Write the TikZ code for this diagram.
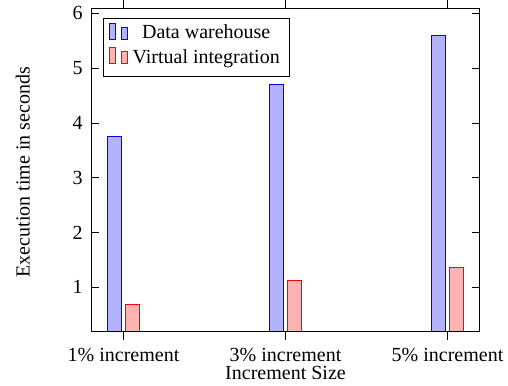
\documentclass[tikz,border=0pt]{standalone}
\usepackage{fontspec}
\setmainfont{Liberation Serif}
\usetikzlibrary{positioning}

\tikzset{
  dwbar/.style={draw=blue, fill=blue!30},
  vibar/.style={draw=red, fill=red!30},
  ylab/.style={anchor=east, inner sep=0pt, xshift=-4pt},
  xlab/.style={anchor=base, inner sep=0pt},
}

\begin{document}
\begin{tikzpicture}[x=81pt, y=27.4pt]

\useasboundingbox (-0.7623,-0.783) rectangle (2.3735,6.243) ;

\draw [dwbar] (-0.0975,0.19) rectangle (-0.0136,3.75) ;
\draw [vibar] (0.0136,0.19) rectangle (0.0975,0.69) ;
\draw [dwbar] (0.9025,0.19) rectangle (0.9864,4.70) ;
\draw [vibar] (1.0136,0.19) rectangle (1.0975,1.12) ;
\draw [dwbar] (1.9025,0.19) rectangle (1.9864,5.60) ;
\draw [vibar] (2.0136,0.19) rectangle (2.0975,1.36) ;

\coordinate (sw) at (-0.2,0.19) ;
\coordinate (ne) at (2.2,6.09) ;
\draw (sw) rectangle (ne) ;

\draw (-0.2,1) -- ++(4pt,0) ;
\draw (-0.2,2) -- ++(4pt,0) ;
\draw (-0.2,3) -- ++(4pt,0) ;
\draw (-0.2,4) -- ++(4pt,0) ;
\draw (-0.2,5) -- ++(4pt,0) ;
\draw (-0.2,6) -- ++(4pt,0) ;
\draw (2.2,1) -- ++(-4pt,0) ;
\draw (2.2,2) -- ++(-4pt,0) ;
\draw (2.2,3) -- ++(-4pt,0) ;
\draw (2.2,4) -- ++(-4pt,0) ;
\draw (2.2,5) -- ++(-4pt,0) ;
\draw (2.2,6) -- ++(-4pt,0) ;

\draw (0,0.19) -- ++(0,-4pt) ;
\draw (1,0.19) -- ++(0,-4pt) ;
\draw (2,0.19) -- ++(0,-4pt) ;
\draw (0,6.09) -- ++(0,4pt) ;
\draw (1,6.09) -- ++(0,4pt) ;
\draw (2,6.09) -- ++(0,4pt) ;

\node (y1) [ylab] at (-0.2,1) {1} ;
\node (y2) [ylab] at (-0.2,2) {2} ;
\node (y3) [ylab] at (-0.2,3) {3} ;
\node (y4) [ylab] at (-0.2,4) {4} ;
\node (y5) [ylab] at (-0.2,5) {5} ;
\node (y6) [ylab] at (-0.2,6) {6} ;

\node (x1) [xlab] at (0,-0.36) {1\% increment} ;
\node (x3) [xlab] at (1,-0.36) {3\% increment} ;
\node (x5) [xlab] at (2,-0.36) {5\% increment} ;
\node (xtitle) [xlab] at (1,-0.69) {Increment Size} ;
\node (ytitle) [xlab, rotate=90] at (-0.58,3.1) {Execution time in seconds} ;

\node (legend) [draw, fill=white, anchor=north west, inner sep=0pt,
  minimum width=93pt, minimum height=28.9pt] at (-0.1265,5.911) {} ;
\draw [dwbar] ([xshift=3.35pt,yshift=-10.4pt]legend.north west) rectangle ++(2.8pt,8pt) ;
\draw [dwbar] ([xshift=9.2pt,yshift=-10.4pt]legend.north west) rectangle ++(2.8pt,6pt) ;
\draw [vibar] ([xshift=3.35pt,yshift=-22.6pt]legend.north west) rectangle ++(2.8pt,8pt) ;
\draw [vibar] ([xshift=9.2pt,yshift=-22.6pt]legend.north west) rectangle ++(2.8pt,6pt) ;
\node (dwname) [xlab] at ([xshift=51.6pt,yshift=-10.4pt]legend.north west) {Data warehouse} ;
\node (viname) [xlab] at ([xshift=51.6pt,yshift=-22.6pt]legend.north west) {Virtual integration} ;

\end{tikzpicture}
\end{document}
